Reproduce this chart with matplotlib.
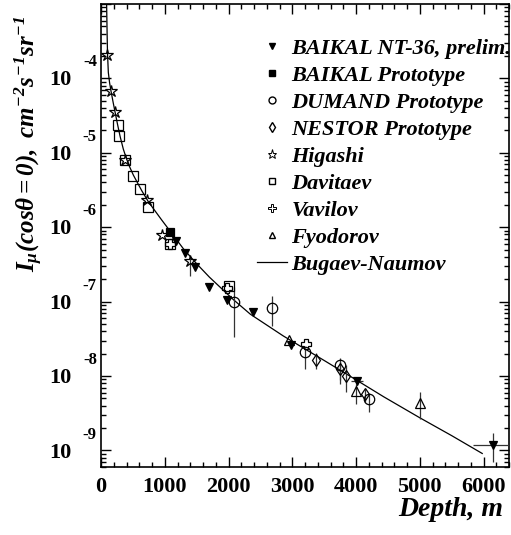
import numpy as np
import matplotlib
matplotlib.use("Agg")
import matplotlib.pyplot as plt
from matplotlib.lines import Line2D
from matplotlib.ticker import MultipleLocator, LogLocator, NullFormatter

# depth in metres of water, intensities stored as log10 [cm^-2 s^-1 sr^-1]
curve_depth = [88, 96, 102, 115, 135, 157, 190, 220, 260, 300, 350, 400, 450, 508,
               640, 745, 950, 1135, 1293, 1500, 1700, 2073, 2345, 2858, 3500,
               4000, 4438, 5000, 5500, 5980]
curve_lg = [-3.00, -3.40, -3.66, -3.92, -4.06, -4.17, -4.32, -4.45, -4.62, -4.78,
            -4.95, -5.08, -5.19, -5.30, -5.51, -5.66, -5.90, -6.11, -6.29, -6.49,
            -6.67, -6.97, -7.17, -7.46, -7.79, -8.05, -8.28, -8.56, -8.80, -9.04]

baikal36_depth = [1173, 1319, 1476, 1696, 1974, 2392, 2979, 4016, 6148]
baikal36_lg = [-6.18, -6.34, -6.54, -6.80, -6.98, -7.14, -7.58, -8.07, -8.92]
baikal36_lo = [-6.18, -6.34, -6.54, -6.80, -6.98, -7.14, -7.58, -8.12, -9.15]
baikal36_hi = [-6.18, -6.34, -6.54, -6.80, -6.98, -7.14, -7.58, -8.03, -8.77]
baikal36_xerr = [0, 0, 0, 0, 0, 0, 0, 100, 310]

baikalproto_depth = [1084]
baikalproto_lg = [-6.07]

dumand_depth = [2089, 2675, 3194, 3742, 4203]
dumand_lg = [-7.00, -7.08, -7.68, -7.85, -8.31]
dumand_lo = [-7.47, -7.33, -7.90, -8.05, -8.48]
dumand_hi = [-6.80, -6.93, -7.62, -7.76, -8.24]

nestor_depth = [3380, 3742, 3848, 4148]
nestor_lg = [-7.78, -7.91, -8.00, -8.24]
nestor_lo = [-7.91, -8.10, -8.22, -8.35]
nestor_hi = [-7.69, -7.80, -7.85, -8.18]

higashi_depth = [99, 157, 220, 377, 717, 953, 1389]
higashi_lg = [-3.68, -4.17, -4.45, -5.09, -5.64, -6.11, -6.45]
higashi_lo = [-3.68, -4.17, -4.45, -5.09, -5.64, -6.11, -6.66]
higashi_hi = [-3.68, -4.17, -4.45, -5.09, -5.64, -6.11, -6.40]

davitaev_depth = [262, 283, 377, 508, 612, 745, 1084, 2000]
davitaev_lg = [-4.63, -4.77, -5.09, -5.31, -5.48, -5.73, -6.22, -6.79]

vavilov_depth = [1084, 1974, 3221]
vavilov_lg = [-6.22, -6.82, -7.57]

fyodorov_depth = [2954, 4000, 5010]
fyodorov_lg = [-7.51, -8.20, -8.36]
fyodorov_lo = [-7.51, -8.38, -8.58]
fyodorov_hi = [-7.51, -8.10, -8.22]

exponents = [-4, -5, -6, -7, -8, -9]

plt.rcParams['font.family'] = 'Liberation Serif'
plt.rcParams['font.weight'] = 'bold'
plt.rcParams['mathtext.fontset'] = 'custom'
plt.rcParams['mathtext.rm'] = 'Liberation Serif:bold:italic'
plt.rcParams['mathtext.it'] = 'Liberation Serif:bold:italic'
plt.rcParams['mathtext.bf'] = 'Liberation Serif:bold:italic'

fig = plt.figure(figsize=(5.11, 5.35), dpi=100)
ax = fig.add_axes([101 / 511, 1 - 467 / 535, 408 / 511, 463 / 535])


def draw(depth, lg, marker, size, filled=False, lo=None, hi=None, xerr=None):
    y = 10 ** np.array(lg)
    yerr = None
    if lo is not None:
        yerr = [y - 10 ** np.array(lo), 10 ** np.array(hi) - y]
    ax.errorbar(depth, y, yerr=yerr, xerr=xerr, fmt=marker, ms=size,
                mfc='k' if filled else 'none', mec='k', mew=0.9,
                ecolor='#333333', elinewidth=0.9, capsize=0, zorder=3)


ax.plot(curve_depth, 10 ** np.array(curve_lg), '-', color='k', lw=0.9, zorder=2)
draw(baikal36_depth, baikal36_lg, 'v', 6, True, baikal36_lo, baikal36_hi, baikal36_xerr)
draw(baikalproto_depth, baikalproto_lg, 's', 6, True)
draw(dumand_depth, dumand_lg, 'o', 7.5, False, dumand_lo, dumand_hi)
draw(nestor_depth, nestor_lg, 'd', 6, False, nestor_lo, nestor_hi)
draw(higashi_depth, higashi_lg, '*', 9, False, higashi_lo, higashi_hi)
draw(davitaev_depth, davitaev_lg, 's', 7)
draw(vavilov_depth, vavilov_lg, 'P', 7)
draw(fyodorov_depth, fyodorov_lg, '^', 7, False, fyodorov_lo, fyodorov_hi)

ax.set_yscale('log')
ax.set_xlim(0, 6400)
ax.set_ylim(6e-10, 1e-3)

ax.xaxis.set_major_locator(MultipleLocator(1000))
ax.xaxis.set_minor_locator(MultipleLocator(200))
ax.yaxis.set_major_locator(LogLocator(base=10, numticks=20))
ax.yaxis.set_minor_locator(LogLocator(base=10, subs=np.arange(2, 10), numticks=20))
ax.yaxis.set_major_formatter(NullFormatter())
ax.yaxis.set_minor_formatter(NullFormatter())
ax.tick_params(which='both', direction='in', top=True, right=True, width=1)
ax.tick_params(which='major', length=7)
ax.tick_params(which='minor', length=3.5)
ax.tick_params(axis='x', labelsize=16, pad=7)
for sp in ax.spines.values():
    sp.set_linewidth(1.2)

# ROOT-like "10" labels with the exponent sitting high on the right
for e in exponents:
    ax.annotate('10', xy=(0, 10.0 ** e), xycoords=('axes fraction', 'data'),
                xytext=(-21, -1.5), textcoords='offset points',
                ha='right', va='center', fontsize=16, fontweight='bold')
    ax.annotate(str(e), xy=(0, 10.0 ** e), xycoords=('axes fraction', 'data'),
                xytext=(-3, 11.5), textcoords='offset points',
                ha='right', va='center', fontsize=12, fontweight='bold')

fig.text(0.056, 1 - 272 / 535,
         r'$I_{\mu}(cos\theta=0),\ cm^{-2}s^{-1}sr^{-1}$',
         rotation=90, ha='center', va='bottom', fontsize=18)
fig.text(0.985, 1 - 510 / 535, 'Depth, m', ha='right', va='center',
         fontsize=20, fontweight='bold', fontstyle='italic')

handles = [
    Line2D([], [], ls='none', marker='v', ms=4.5, mfc='k', mec='k'),
    Line2D([], [], ls='none', marker='s', ms=4.5, mfc='k', mec='k'),
    Line2D([], [], ls='none', marker='o', ms=5, mfc='none', mec='k'),
    Line2D([], [], ls='none', marker='d', ms=5, mfc='none', mec='k'),
    Line2D([], [], ls='none', marker='*', ms=6.5, mfc='none', mec='k', mew=0.7),
    Line2D([], [], ls='none', marker='s', ms=5, mfc='none', mec='k'),
    Line2D([], [], ls='none', marker='P', ms=5.5, mfc='none', mec='k', mew=0.7),
    Line2D([], [], ls='none', marker='^', ms=5, mfc='none', mec='k'),
    Line2D([], [], color='k', lw=0.9),
]
labels = ['BAIKAL NT-36, prelim.', 'BAIKAL Prototype', 'DUMAND Prototype',
          'NESTOR Prototype', 'Higashi', 'Davitaev', 'Vavilov', 'Fyodorov',
          'Bugaev-Naumov']
leg = fig.legend(handles, labels, loc='upper left',
                 bbox_to_anchor=(257 / 511, 1 - 38 / 535),
                 frameon=False, handlelength=1.35, handletextpad=0.2,
                 labelspacing=0.29, borderpad=0, borderaxespad=0,
                 prop={'family': 'Liberation Serif', 'weight': 'bold',
                       'style': 'italic', 'size': 16})

fig.savefig('out.png', dpi=100)
